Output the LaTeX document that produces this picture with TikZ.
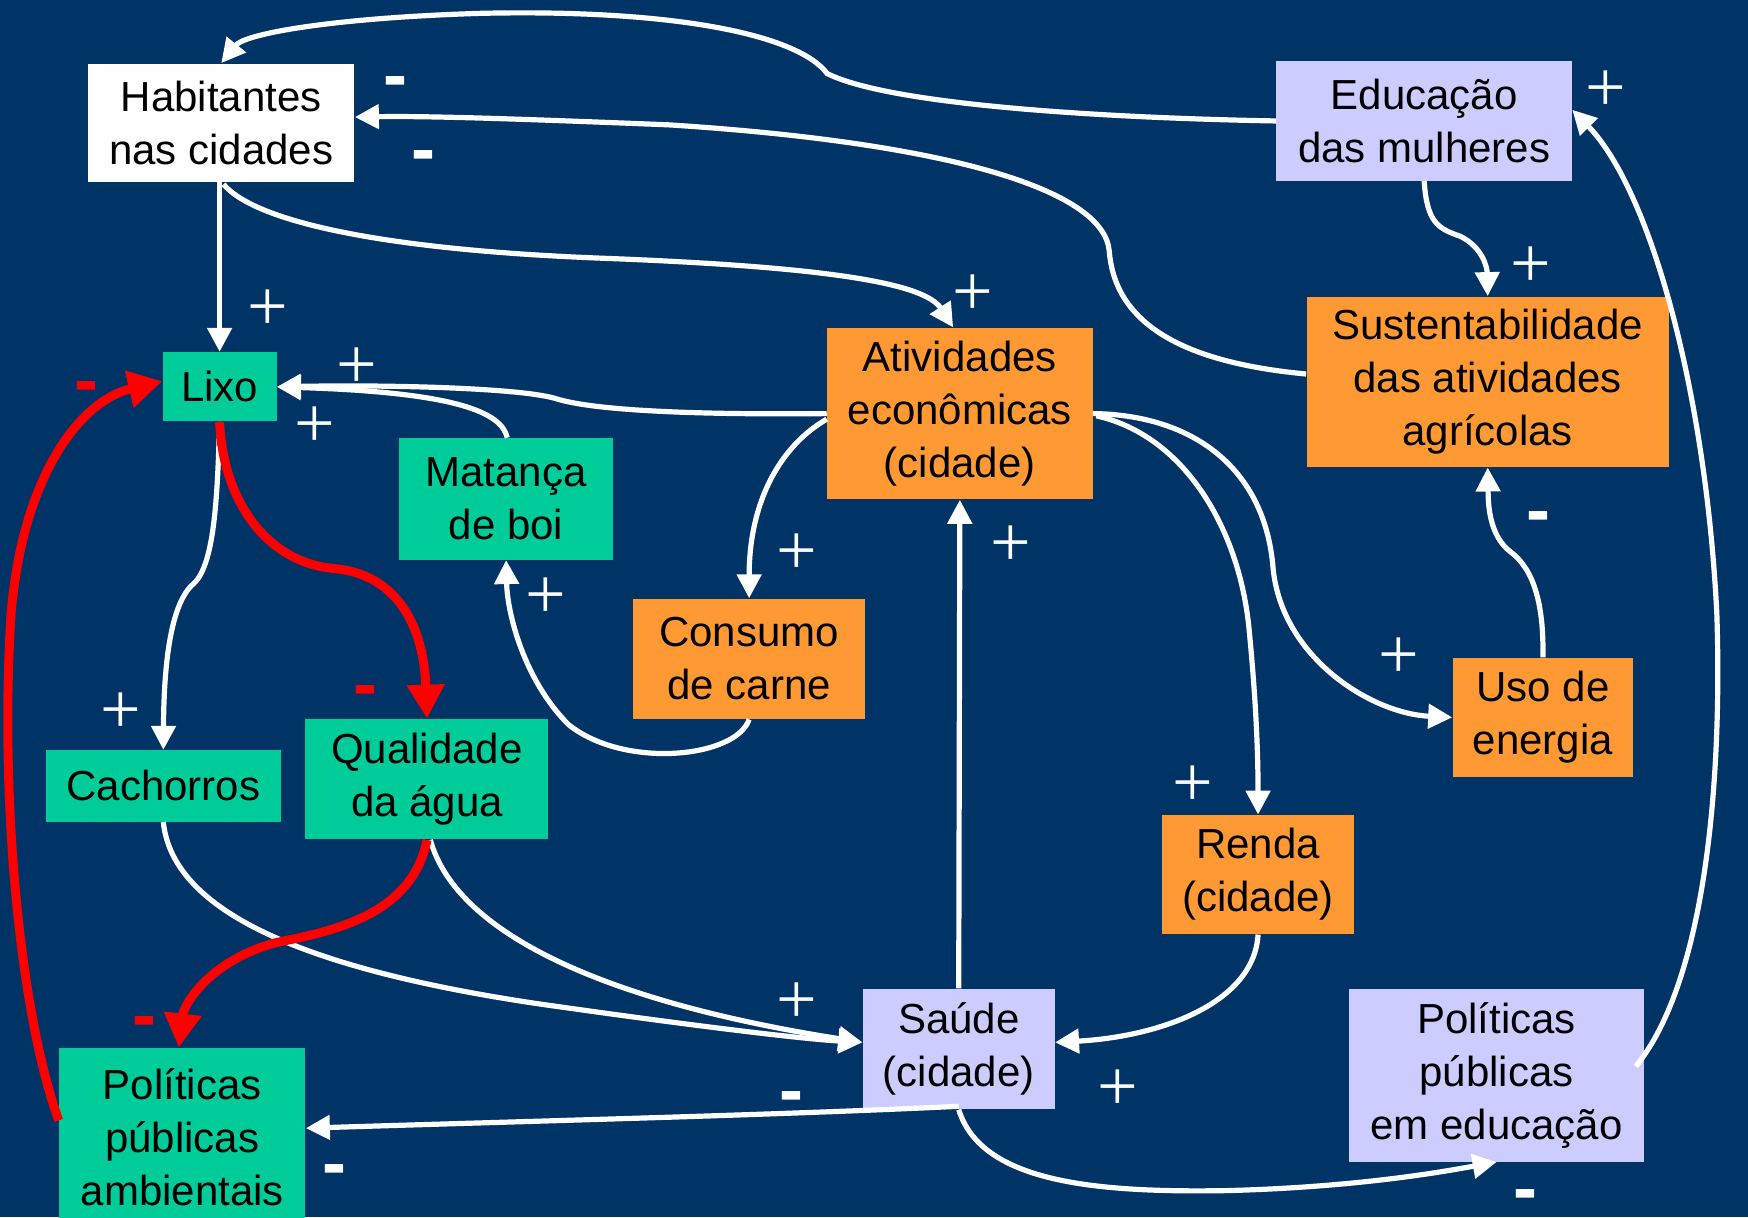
\documentclass[tikz,border=0pt]{standalone}
\usepackage{fontspec}
\newfontfamily\arial{Liberation Sans}
\newfontfamily\timesf{Liberation Serif}
\usetikzlibrary{arrows.meta,calc}
\definecolor{bg}{RGB}{0,51,102}
\definecolor{tealc}{RGB}{0,204,153}
\definecolor{orangec}{RGB}{255,153,51}
\definecolor{lavc}{RGB}{204,204,255}
\tikzset{
  box/.style={inner sep=0pt, align=center, text=black, font=\arial\fontsize{21}{26.5}\selectfont},
  wire/.style={draw=white, line width=2.6pt, -{Triangle[length=12pt,width=12pt]}},
  redwire/.style={draw=red, line width=4.5pt, -{Triangle[length=17pt,width=18pt]}},
  plus/.style={text=white, inner sep=0pt, font=\timesf\fontsize{36}{36}\selectfont},
  minus/.style={text=white, inner sep=0pt, yshift=-4pt, font=\arial\bfseries\fontsize{36}{36}\selectfont},
  rminus/.style={minus, text=red}
}
\begin{document}
\begin{tikzpicture}[x=0.5574pt,y=-0.5574pt]
\useasboundingbox (0,0) rectangle (1568,1092);
\fill[bg] (0,0) rectangle (1568,1092);

% nodes
\node[box, fill=white, minimum width=133.2pt, minimum height=59.1pt] (hab) at (198.5,110) {Habitantes\\nas cidades};
\node[box, fill=lavc, minimum width=147.7pt, minimum height=59.6pt] (edu) at (1277.5,108.5) {Educação\\das mulheres};
\node[box, fill=tealc, minimum width=56.9pt, minimum height=34.6pt] (lixo) at (197,347) {Lixo};
\node[box, fill=orangec, minimum width=181.2pt, minimum height=85.3pt] (sust) at (1334.5,342.5) {Sustentabilidade\\das atividades\\agrícolas};
\node[box, fill=orangec, minimum width=132.7pt, minimum height=85.8pt] (ativ) at (861,371) {Atividades\\econômicas\\(cidade)};
\node[box, fill=tealc, minimum width=107pt, minimum height=60.8pt] (mat) at (454,447.5) {Matança\\de boi};
\node[box, fill=orangec, minimum width=115.9pt, minimum height=60.2pt] (cons) at (672,591) {Consumo\\de carne};
\node[box, fill=orangec, minimum width=90.3pt, minimum height=59.6pt] (uso) at (1384,643.5) {Uso de\\energia};
\node[box, fill=tealc, minimum width=117.6pt, minimum height=35.7pt] (cach) at (146.5,705) {Cachorros};
\node[box, fill=tealc, minimum width=121.5pt, minimum height=60.2pt] (qual) at (383,699) {Qualidade\\da água};
\node[box, fill=orangec, minimum width=96.4pt, minimum height=59.6pt] (renda) at (1128.5,784.5) {Renda\\(cidade)};
\node[box, fill=lavc, minimum width=95.9pt, minimum height=60.2pt] (saude) at (860,941) {Saúde\\(cidade)};
\node[box, fill=lavc, minimum width=147.7pt, minimum height=86.4pt] (ppe) at (1342.5,964.5) {Políticas\\públicas\\em educação};
\node[box, fill=tealc, minimum width=123.2pt, minimum height=89.2pt] (ppa) at (163.5,1020) {Políticas\\públicas\\ambientais};

% connectors
\draw[wire] (edu.west) .. controls (1000,106) and (800,95) .. (742,66)
  .. controls (715,30) and (600,8) .. (430,12)
  .. controls (300,16) and (220,30) .. (hab.north);
\draw[wire] ($(sust.west)+(0,-7)$) .. controls (1060,325) and (1000,290) .. (995,225)
  .. controls (990,170) and (850,128) .. (600,112)
  .. controls (450,106) and (380,104) .. ($(hab.east)+(0,-5)$);
\draw[wire] (hab.south -| lixo.north) -- (lixo.north);
\draw[wire] ($(hab.south)+(2,2)$) .. controls (230,200) and (350,225) .. (550,232)
  .. controls (750,240) and (830,255) .. ($(ativ.north)+(-6,0)$);
\draw[wire] (ativ.west) .. controls (650,372) and (540,370) .. (500,358)
  .. controls (470,348) and (350,345) .. (lixo.east);
\draw[wire] ($(mat.north)+(1,0)$) .. controls (450,370) and (410,352) .. (lixo.east);
\draw[wire] (lixo.south) .. controls (195,450) and (192,510) .. (172,525)
  .. controls (152,545) and (147,600) .. (cach.north);
\draw[wire] ($(ativ.west)+(0,5)$) .. controls (700,400) and (672,450) .. (cons.north);
\draw[wire] (cons.south) .. controls (660,680) and (560,690) .. (510,650)
  .. controls (470,610) and (455,550) .. (mat.south);
\draw[wire] (saude.north) -- (ativ.south);
\draw[wire] (ativ.east) .. controls (1070,372) and (1135,420) .. (1142,510)
  .. controls (1150,590) and (1230,640) .. (uso.west);
\draw[wire] ($(ativ.east)+(3,2)$) .. controls (1060,390) and (1110,470) .. (1120,560)
  .. controls (1128,640) and (1128.5,690) .. (renda.north);
\draw[wire] (edu.south) .. controls (1280,200) and (1290,205) .. (1310,212)
  .. controls (1330,222) and (1334,240) .. (sust.north);
\draw[wire] (uso.north) .. controls (1385,540) and (1375,510) .. (1355,495)
  .. controls (1335,480) and (1335,450) .. (sust.south);
\draw[wire] ($(ppe.east)+(-8,-8)$) .. controls (1530,880) and (1545,700) .. (1540,550)
  .. controls (1530,350) and (1480,170) .. ($(edu.east)+(0,-10)$);
\draw[wire] (renda.south) .. controls (1125,900) and (1040,930) .. ($(saude.east)+(0,-6)$);
\draw[wire] (cach.south) .. controls (155,820) and (280,870) .. (480,900)
  .. controls (620,920) and (720,932) .. ($(saude.west)+(0,-6)$);
\draw[wire] ($(qual.south)+(3,0)$) .. controls (410,840) and (550,900) .. ($(saude.west)+(0,-6)$);
\draw[wire] ($(saude.south)+(0,-3)$) .. controls (700,1000) and (500,1005) .. ($(ppa.east)+(0,-8)$);
\draw[wire] (saude.south) .. controls (880,1060) and (980,1070) .. (1100,1068)
  .. controls (1220,1065) and (1300,1050) .. (ppe.south);

\draw[redwire] (lixo.south) .. controls (200,450) and (240,505) .. (300,510)
  .. controls (355,515) and (380,560) .. (qual.north);
\draw[redwire] (qual.south) .. controls (370,820) and (300,835) .. (250,845)
  .. controls (190,860) and (165,900) .. ($(ppa.north)+(-3,0)$);
\draw[redwire] ($(ppa.west)+(0,-15)$) .. controls (15,900) and (0,700) .. (10,550)
  .. controls (20,430) and (70,360) .. ($(lixo.west)+(0,-5)$);

% signs
\node[minus] (m1) at (355,72) {-};
\node[minus] (m2) at (380,138) {-};
\node[minus] (m3) at (1380,462) {-};
\node[minus] (m4) at (710,982) {-};
\node[minus] (m5) at (300,1048) {-};
\node[minus] (m6) at (1368,1070) {-};
\node[rminus] (r1) at (78,345) {-};
\node[rminus] (r2) at (328,618) {-};
\node[rminus] (r3) at (130,915) {-};
\node[plus] (p1) at (1440,82) {+};
\node[plus] (p2) at (240,278) {+};
\node[plus] (p3) at (873,265) {+};
\node[plus] (p4) at (1373,240) {+};
\node[plus] (p5) at (320,330) {+};
\node[plus] (p6) at (282,383) {+};
\node[plus] (p7) at (715,497) {+};
\node[plus] (p8) at (907,490) {+};
\node[plus] (p9) at (490,537) {+};
\node[plus] (p10) at (1255,590) {+};
\node[plus] (p11) at (108,640) {+};
\node[plus] (p12) at (1070,705) {+};
\node[plus] (p13) at (715,900) {+};
\node[plus] (p14) at (1003,978) {+};
\end{tikzpicture}
\end{document}
